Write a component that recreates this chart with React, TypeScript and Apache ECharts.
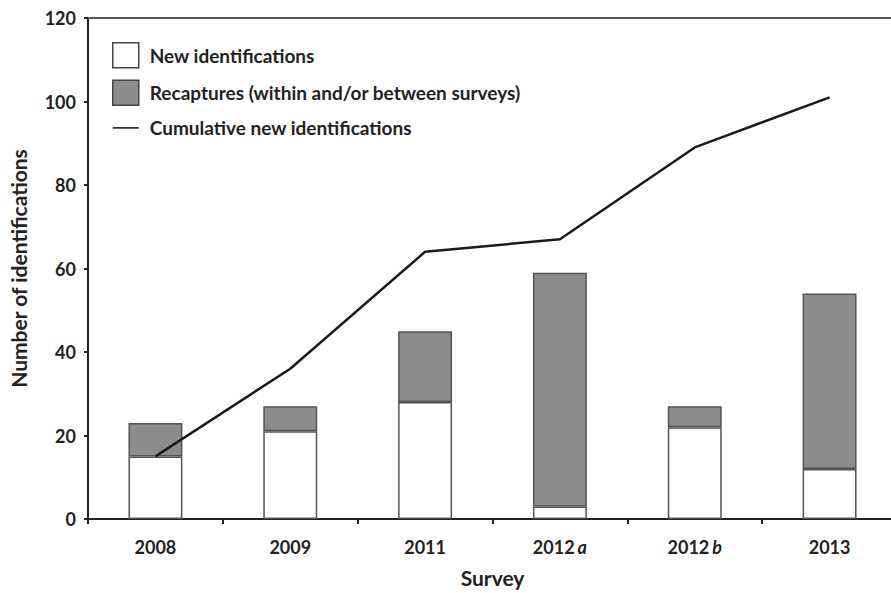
import React, { useEffect, useRef } from "react";
import * as echarts from "echarts";

const categories = ["2008", "2009", "2011", "2012a", "2012b", "2013"];
const newIdentifications = [15, 21, 28, 3, 22, 12];
const recaptures = [8, 6, 17, 56, 5, 42];
const cumulativeNew = [15, 36, 64, 67, 89, 101];
const yTicks = { min: 0, max: 120, interval: 20 };

const FONT = "Lato, 'Open Sans', sans-serif";
const LINE_ICON =
  "path://M0,0 L0.01,0 L0,0.01 Z M0,11.5 L30,11.5 L30,13.5 L0,13.5 Z M30,25 L29.99,25 L30,24.99 Z";

export default function App() {
  const ref = useRef<HTMLDivElement>(null);
  useEffect(() => {
    if (!ref.current) return;
    const chart = echarts.init(ref.current, undefined, { renderer: "svg" });
    chart.setOption({
      animation: false,
      backgroundColor: "#ffffff",
      textStyle: { fontFamily: FONT },
      grid: { left: 87, right: 3, top: 18, bottom: 74, containLabel: false },
      legend: {
        orient: "vertical",
        left: 112,
        top: 42,
        padding: 0,
        itemWidth: 26,
        itemHeight: 25,
        itemGap: 11,
        itemStyle: { borderColor: "#444", borderWidth: 1.5 },
        textStyle: { fontFamily: FONT, fontWeight: "bold", fontSize: 19, color: "#222", padding: [0, 0, 0, 6] },
        data: [
          { name: "New identifications", icon: "rect" },
          { name: "Recaptures (within and/or between surveys)", icon: "rect" },
          {
            name: "Cumulative new identifications",
            icon: LINE_ICON,
            itemStyle: { color: "#333", borderWidth: 0 },
          },
        ],
      },
      xAxis: [
        {
          type: "category",
          data: categories,
          boundaryGap: true,
          name: "Survey",
          nameLocation: "middle",
          nameGap: 48,
          nameTextStyle: { fontFamily: FONT, fontWeight: "bold", fontSize: 21, color: "#222" },
          axisLine: { lineStyle: { color: "#222", width: 2 } },
          axisTick: { show: true, length: 5, lineStyle: { color: "#222", width: 2 } },
          axisLabel: {
            margin: 19,
            fontFamily: FONT,
            fontWeight: "bold",
            fontSize: 18,
            color: "#222",
            formatter: (v: string) => {
              const m = v.match(/^(\d+)([a-z])$/);
              return m ? `{n|${m[1]}}{i|${m[2]}}` : `{n|${v}}`;
            },
            rich: {
              n: { fontFamily: FONT, fontWeight: "bold", fontSize: 18, color: "#222" },
              i: { fontFamily: FONT, fontWeight: "bold", fontStyle: "italic", fontSize: 18, color: "#222", padding: [0, 0, 0, 3] },
            },
          },
        },
        {
          type: "category",
          position: "top",
          data: categories,
          axisLine: { show: true, lineStyle: { color: "#555", width: 2 } },
          axisTick: { show: false },
          axisLabel: { show: false },
        },
      ],
      yAxis: {
        type: "value",
        min: yTicks.min,
        max: yTicks.max,
        interval: yTicks.interval,
        name: "Number of identifications",
        nameLocation: "middle",
        nameGap: 59,
        nameTextStyle: { fontFamily: FONT, fontWeight: "bold", fontSize: 21, color: "#222" },
        axisLine: { show: true, lineStyle: { color: "#222", width: 2 } },
        axisTick: { show: true, length: 4, lineStyle: { color: "#222", width: 2 } },
        splitLine: { show: false },
        axisLabel: { margin: 12, fontFamily: FONT, fontWeight: "bold", fontSize: 18, color: "#222" },
      },
      series: [
        {
          name: "New identifications",
          type: "bar",
          stack: "s",
          barWidth: "40%",
          data: newIdentifications,
          itemStyle: { color: "#ffffff", borderColor: "#555", borderWidth: 1.5 },
        },
        {
          name: "Recaptures (within and/or between surveys)",
          type: "bar",
          stack: "s",
          barWidth: "40%",
          data: recaptures,
          itemStyle: { color: "#8c8c8c", borderColor: "#555", borderWidth: 1.5 },
        },
        {
          name: "Cumulative new identifications",
          type: "line",
          data: cumulativeNew,
          symbol: "none",
          lineStyle: { color: "#1a1a1a", width: 2.5 },
          itemStyle: { color: "#1a1a1a" },
          z: 5,
        },
      ],
    });
    return () => chart.dispose();
  }, []);
  return (
    <div style={{ position: "fixed", left: 0, top: 0, width: 891, height: 593, overflow: "hidden", background: "#fff" }}>
      <div ref={ref} style={{ width: 900, height: 593 }} />
    </div>
  );
}
